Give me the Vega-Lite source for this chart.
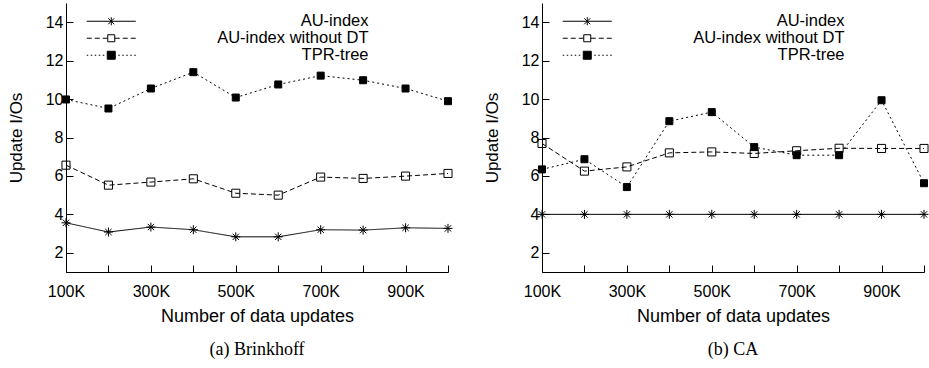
{
  "$schema": "https://vega.github.io/schema/vega-lite/v6.json",
  "background": "white",
  "padding": {"left": 7, "top": 3, "right": 4, "bottom": 5},
  "spacing": 28,
  "config": {
    "view": {"stroke": null},
    "font": "Liberation Sans",
    "axis": {
      "grid": false,
      "domainColor": "black",
      "domainWidth": 1,
      "tickColor": "black",
      "tickWidth": 1,
      "tickSize": -7,
      "labelColor": "black",
      "labelFont": "Liberation Sans",
      "labelFontSize": 16,
      "labelFlush": false,
      "titleColor": "black",
      "titleFont": "Liberation Sans",
      "titleFontWeight": "normal"
    },
    "axisX": {"labelPadding": 18, "titlePadding": 8, "titleFontSize": 18},
    "axisY": {"labelPadding": 10, "titlePadding": 20, "titleFontSize": 17},
    "legend": {
      "orient": "none",
      "legendX": 37,
      "legendY": 10,
      "title": null,
      "padding": 0,
      "rowPadding": 0,
      "labelAlign": "right",
      "labelOffset": 249,
      "labelFont": "Liberation Sans",
      "labelFontSize": 16.5,
      "labelColor": "black",
      "labelLimit": 400
    },
    "title": {"font": "Liberation Serif", "fontSize": 18, "fontWeight": "normal", "color": "black", "orient": "bottom", "offset": 16}
  },
  "datasets": {
    "brink": [
      {"n": 100000, "s": "AU-index", "v": 3.56},
      {"n": 200000, "s": "AU-index", "v": 3.08},
      {"n": 300000, "s": "AU-index", "v": 3.34},
      {"n": 400000, "s": "AU-index", "v": 3.20},
      {"n": 500000, "s": "AU-index", "v": 2.83},
      {"n": 600000, "s": "AU-index", "v": 2.83},
      {"n": 700000, "s": "AU-index", "v": 3.20},
      {"n": 800000, "s": "AU-index", "v": 3.18},
      {"n": 900000, "s": "AU-index", "v": 3.30},
      {"n": 1000000, "s": "AU-index", "v": 3.27},
      {"n": 100000, "s": "AU-index without DT", "v": 6.56},
      {"n": 200000, "s": "AU-index without DT", "v": 5.52},
      {"n": 300000, "s": "AU-index without DT", "v": 5.68},
      {"n": 400000, "s": "AU-index without DT", "v": 5.85},
      {"n": 500000, "s": "AU-index without DT", "v": 5.10},
      {"n": 600000, "s": "AU-index without DT", "v": 5.00},
      {"n": 700000, "s": "AU-index without DT", "v": 5.94},
      {"n": 800000, "s": "AU-index without DT", "v": 5.87},
      {"n": 900000, "s": "AU-index without DT", "v": 5.99},
      {"n": 1000000, "s": "AU-index without DT", "v": 6.13},
      {"n": 100000, "s": "TPR-tree", "v": 9.98},
      {"n": 200000, "s": "TPR-tree", "v": 9.51},
      {"n": 300000, "s": "TPR-tree", "v": 10.55},
      {"n": 400000, "s": "TPR-tree", "v": 11.40},
      {"n": 500000, "s": "TPR-tree", "v": 10.08},
      {"n": 600000, "s": "TPR-tree", "v": 10.76},
      {"n": 700000, "s": "TPR-tree", "v": 11.22},
      {"n": 800000, "s": "TPR-tree", "v": 10.98},
      {"n": 900000, "s": "TPR-tree", "v": 10.55},
      {"n": 1000000, "s": "TPR-tree", "v": 9.89}
    ],
    "ca": [
      {"n": 100000, "s": "AU-index", "v": 4},
      {"n": 200000, "s": "AU-index", "v": 4},
      {"n": 300000, "s": "AU-index", "v": 4},
      {"n": 400000, "s": "AU-index", "v": 4},
      {"n": 500000, "s": "AU-index", "v": 4},
      {"n": 600000, "s": "AU-index", "v": 4},
      {"n": 700000, "s": "AU-index", "v": 4},
      {"n": 800000, "s": "AU-index", "v": 4},
      {"n": 900000, "s": "AU-index", "v": 4},
      {"n": 1000000, "s": "AU-index", "v": 4},
      {"n": 100000, "s": "AU-index without DT", "v": 7.69},
      {"n": 200000, "s": "AU-index without DT", "v": 6.25},
      {"n": 300000, "s": "AU-index without DT", "v": 6.47},
      {"n": 400000, "s": "AU-index without DT", "v": 7.20},
      {"n": 500000, "s": "AU-index without DT", "v": 7.25},
      {"n": 600000, "s": "AU-index without DT", "v": 7.17},
      {"n": 700000, "s": "AU-index without DT", "v": 7.31},
      {"n": 800000, "s": "AU-index without DT", "v": 7.44},
      {"n": 900000, "s": "AU-index without DT", "v": 7.43},
      {"n": 1000000, "s": "AU-index without DT", "v": 7.43},
      {"n": 100000, "s": "TPR-tree", "v": 6.34},
      {"n": 200000, "s": "TPR-tree", "v": 6.87},
      {"n": 300000, "s": "TPR-tree", "v": 5.42},
      {"n": 400000, "s": "TPR-tree", "v": 8.85},
      {"n": 500000, "s": "TPR-tree", "v": 9.32},
      {"n": 600000, "s": "TPR-tree", "v": 7.50},
      {"n": 700000, "s": "TPR-tree", "v": 7.08},
      {"n": 800000, "s": "TPR-tree", "v": 7.08},
      {"n": 900000, "s": "TPR-tree", "v": 9.94},
      {"n": 1000000, "s": "TPR-tree", "v": 5.62}
    ]
  },
  "hconcat": [
    {
      "width": 382,
      "height": 269,
      "data": {"name": "brink"},
      "title": {"text": "(a) Brinkhoff"},
      "encoding": {
        "x": {"field": "n", "type": "quantitative", "scale": {"domain": [100000, 1000000], "nice": false, "zero": false},
          "axis": {"title": "Number of data updates", "values": [100000, 200000, 300000, 400000, 500000, 600000, 700000, 800000, 900000, 1000000],
            "labelExpr": "(datum.value / 100000) % 2 == 1 ? (datum.value / 1000) + 'K' : ''"}},
        "y": {"field": "v", "type": "quantitative", "scale": {"domain": [1, 15], "nice": false, "zero": false},
          "axis": {"title": "Update I/Os", "values": [2, 4, 6, 8, 10, 12, 14]}}
      },
      "layer": [
        {
          "mark": {"type": "line", "color": "black", "strokeWidth": 1},
          "encoding": {
            "detail": {"field": "s"},
            "strokeDash": {"field": "s", "type": "nominal", "legend": null,
              "scale": {"domain": ["AU-index", "AU-index without DT", "TPR-tree"], "range": [[1, 0], [5, 3], [2, 3]]}}
          }
        },
        {
          "mark": {"type": "point", "filled": true, "stroke": "black", "strokeWidth": 1},
          "encoding": {
            "shape": {"field": "s", "type": "nominal", "legend": null,
              "scale": {"domain": ["AU-index", "AU-index without DT", "TPR-tree"], "range": ["M-1,0H1M0,-1V1M-0.7,-0.7L0.7,0.7M-0.7,0.7L0.7,-0.7", "square", "square"]}},
            "opacity": {"field": "s", "type": "ordinal",
              "scale": {"domain": ["AU-index", "AU-index without DT", "TPR-tree"], "range": [1, 1, 1]},
              "legend": {
                "symbolType": {"expr": "datum.value === 'AU-index' ? 'M-4.9,0H4.9M0,-0.8V0.8M-0.6,-0.6L0.6,0.6M-0.6,0.6L0.6,-0.6' : datum.value === 'TPR-tree' ? 'M-4.9,0H-4.6M-4.1,0H-3.8M-3.3,0H-3M-2.5,0H-2.2M-1.7,0H-1.4M-0.8,-0.8H0.8V0.8H-0.8ZM1.4,0H1.7M2.2,0H2.5M3,0H3.3M3.8,0H4.1M4.6,0H4.9' : 'M-4.9,0H-3.9M-3.3,0H-2.3M-1.7,0H-0.7M-0.7,-0.7H0.7V0.7H-0.7ZM0.7,0H1.7M2.3,0H3.3M3.9,0H4.9'"},
                "symbolFillColor": {"expr": "datum.value === 'TPR-tree' ? 'black' : 'transparent'"},
                "symbolStrokeColor": "black",
                "symbolStrokeWidth": 1,
                "symbolSize": 100,
                "symbolOpacity": 1
              }},
            "fill": {"field": "s", "type": "nominal", "legend": null,
              "scale": {"domain": ["AU-index", "AU-index without DT", "TPR-tree"], "range": ["transparent", "transparent", "black"]}},
            "size": {"field": "s", "type": "nominal", "legend": null,
              "scale": {"domain": ["AU-index", "AU-index without DT", "TPR-tree"], "range": [81, 49, 81]}}
          }
        }
      ]
    },
    {
      "width": 382,
      "height": 269,
      "data": {"name": "ca"},
      "title": {"text": "(b) CA"},
      "encoding": {
        "x": {"field": "n", "type": "quantitative", "scale": {"domain": [100000, 1000000], "nice": false, "zero": false},
          "axis": {"title": "Number of data updates", "values": [100000, 200000, 300000, 400000, 500000, 600000, 700000, 800000, 900000, 1000000],
            "labelExpr": "(datum.value / 100000) % 2 == 1 ? (datum.value / 1000) + 'K' : ''"}},
        "y": {"field": "v", "type": "quantitative", "scale": {"domain": [1, 15], "nice": false, "zero": false},
          "axis": {"title": "Update I/Os", "values": [2, 4, 6, 8, 10, 12, 14]}}
      },
      "layer": [
        {
          "mark": {"type": "line", "color": "black", "strokeWidth": 1},
          "encoding": {
            "detail": {"field": "s"},
            "strokeDash": {"field": "s", "type": "nominal", "legend": null,
              "scale": {"domain": ["AU-index", "AU-index without DT", "TPR-tree"], "range": [[1, 0], [5, 3], [2, 3]]}}
          }
        },
        {
          "mark": {"type": "point", "filled": true, "stroke": "black", "strokeWidth": 1},
          "encoding": {
            "shape": {"field": "s", "type": "nominal", "legend": null,
              "scale": {"domain": ["AU-index", "AU-index without DT", "TPR-tree"], "range": ["M-1,0H1M0,-1V1M-0.7,-0.7L0.7,0.7M-0.7,0.7L0.7,-0.7", "square", "square"]}},
            "opacity": {"field": "s", "type": "ordinal",
              "scale": {"domain": ["AU-index", "AU-index without DT", "TPR-tree"], "range": [1, 1, 1]},
              "legend": {
                "symbolType": {"expr": "datum.value === 'AU-index' ? 'M-4.9,0H4.9M0,-0.8V0.8M-0.6,-0.6L0.6,0.6M-0.6,0.6L0.6,-0.6' : datum.value === 'TPR-tree' ? 'M-4.9,0H-4.6M-4.1,0H-3.8M-3.3,0H-3M-2.5,0H-2.2M-1.7,0H-1.4M-0.8,-0.8H0.8V0.8H-0.8ZM1.4,0H1.7M2.2,0H2.5M3,0H3.3M3.8,0H4.1M4.6,0H4.9' : 'M-4.9,0H-3.9M-3.3,0H-2.3M-1.7,0H-0.7M-0.7,-0.7H0.7V0.7H-0.7ZM0.7,0H1.7M2.3,0H3.3M3.9,0H4.9'"},
                "symbolFillColor": {"expr": "datum.value === 'TPR-tree' ? 'black' : 'transparent'"},
                "symbolStrokeColor": "black",
                "symbolStrokeWidth": 1,
                "symbolSize": 100,
                "symbolOpacity": 1
              }},
            "fill": {"field": "s", "type": "nominal", "legend": null,
              "scale": {"domain": ["AU-index", "AU-index without DT", "TPR-tree"], "range": ["transparent", "transparent", "black"]}},
            "size": {"field": "s", "type": "nominal", "legend": null,
              "scale": {"domain": ["AU-index", "AU-index without DT", "TPR-tree"], "range": [81, 49, 81]}}
          }
        }
      ]
    }
  ],
  "resolve": {"legend": {"opacity": "independent"}}
}
